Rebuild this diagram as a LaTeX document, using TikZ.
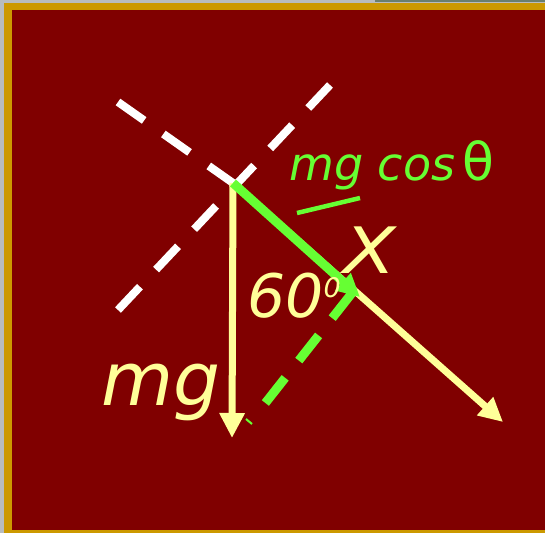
\documentclass[tikz,border=0pt]{standalone}
\usepackage{fontspec}
\setmainfont{DejaVu Sans}
\usetikzlibrary{arrows.meta}
\definecolor{slidegray}{HTML}{B8BCBE}
\definecolor{slidetop}{HTML}{6A7F6E}
\definecolor{slidegold}{HTML}{CC9900}
\definecolor{slidered}{HTML}{800000}
\definecolor{forceyellow}{HTML}{FFFF99}
\definecolor{forcegreen}{HTML}{66FF33}
\begin{document}
\begin{tikzpicture}[x=1pt,y=-1pt,
    axisline/.style={white,line width=8pt,dash pattern=on 32pt off 23.5pt},
    forceline/.style={forceyellow,line width=7pt,-{Triangle[width=24pt,length=25pt]}},
    compline/.style={forcegreen,line width=9pt},
    label/.style={inner sep=0pt,anchor=base west,font=\itshape}]
  % slide background
  \useasboundingbox (0,0) rectangle (545,533);
  \fill[slidegray] (0,0) rectangle (545,533);
  \fill[slidetop] (375,0) rectangle (545,2);
  \fill[slidegold] (4,3) rectangle (545,533);
  \fill[slidered] (12,10) rectangle (545,530);

  \coordinate (P) at (233,183);
  \coordinate (nw) at (118,102);
  \coordinate (sw) at (118,310);
  \coordinate (ne) at (330,85);
  \coordinate (wt) at (232,438);
  \coordinate (xt) at (503,422);
  \coordinate (ct) at (360,297);
  \coordinate (cf) at (263,406);

  % tilted axes
  \draw[axisline] (nw) -- (P);
  \draw[axisline] (sw) -- (ne);

  % weight and slope
  \draw[forceline] (P) -- (wt);
  \draw[forceline,{Triangle[width=23pt,length=24pt]}-] (xt) -- (P);

  % component along the slope
  \draw[compline,-{Triangle[width=22pt,length=23pt]}] (P) -- (ct);
  \draw[compline,dash pattern=on 32pt off 22pt] (352,293) -- (cf);
  \draw[forcegreen,line width=2pt] (246,419) -- (252,424);
  \draw[forcegreen,line width=4.5pt] (297,213) -- (360,198);

  \node[label,forcegreen,font=\itshape\fontsize{46}{50}\selectfont] (cos) at (289,180)
    {mg cos\,{\upshape\fontsize{52}{52}\selectfont θ}};
  \node[label,forceyellow,font=\itshape\fontsize{64}{64}\selectfont,xscale=1.2] (X) at (343,273) {X};
  \node[label,forceyellow,font=\itshape\fontsize{60}{60}\selectfont] (ang) at (247,317)
    {60\raisebox{20pt}{\fontsize{27}{27}\selectfont 0}};
  \node[label,forceyellow,font=\itshape\fontsize{74}{74}\selectfont] (mg) at (101,405) {mg};
\end{tikzpicture}
\end{document}
